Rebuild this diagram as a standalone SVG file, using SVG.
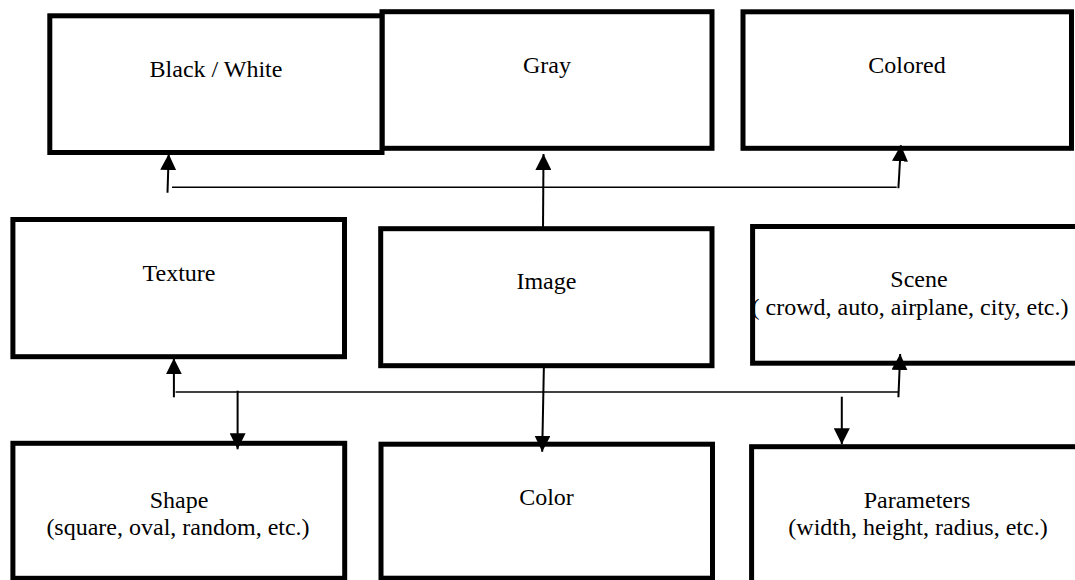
<svg xmlns="http://www.w3.org/2000/svg" width="1075" height="580" viewBox="0 0 1075 580">
<style>
.box{fill:#fff;stroke:#000;stroke-width:5}
.lbl{font-size:24px;fill:#000;text-anchor:middle}
.arr{stroke:#000;stroke-width:2;fill:none;marker-end:url(#ah)}
.hl{stroke:#000;stroke-width:1.6;fill:none}
</style>
<defs>
<marker id="ah" markerUnits="userSpaceOnUse" viewBox="0 0 16 16" refX="16" refY="8" markerWidth="16" markerHeight="16" orient="auto">
<path d="M0,0 L16,8 L0,16 z" fill="#000"/>
</marker>
</defs>
<rect width="1075" height="580" fill="#fff"/>
<g font-family="'Liberation Serif', 'DejaVu Serif', serif">
<g id="gray"><rect class="box" x="382" y="11.7" width="330" height="136.6"/><text class="lbl" x="547" y="73.3">Gray</text></g>
<g id="blackwhite"><rect class="box" x="49.8" y="15.8" width="332.2" height="136.7"/><text class="lbl" x="216" y="77.3">Black / White</text></g>
<g id="colored"><rect class="box" x="743" y="11.8" width="328.5" height="136.5"/><text class="lbl" x="907" y="72.7">Colored</text></g>
<g id="texture"><rect class="box" x="12.9" y="219.5" width="331.6" height="137.2"/><text class="lbl" x="179" y="280.7">Texture</text></g>
<g id="image"><rect class="box" x="380.7" y="228.7" width="331.3" height="137"/><text class="lbl" x="546.4" y="289.3">Image</text></g>
<g id="scene"><rect class="box" x="752.6" y="226.5" width="330" height="136.7"/><text class="lbl" x="919" y="287.3">Scene</text><text class="lbl" x="910" y="315">( crowd, auto, airplane, city, etc.)</text></g>
<g id="shape"><rect class="box" x="12.9" y="443.3" width="331.8" height="135"/><text class="lbl" x="179" y="508.3">Shape</text><text class="lbl" x="178" y="535">(square, oval, random, etc.)</text></g>
<g id="color"><rect class="box" x="381" y="444.2" width="331.5" height="134"/><text class="lbl" x="546.5" y="505">Color</text></g>
<g id="parameters"><rect class="box" x="751.6" y="446.7" width="333" height="140"/><text class="lbl" x="917" y="508.3">Parameters</text><text class="lbl" x="918" y="535">(width, height, radius, etc.)</text></g>
</g>
<g id="connectors">
<line class="arr" x1="167.5" y1="192.7" x2="168.7" y2="154"/>
<line class="hl" x1="172" y1="187.3" x2="896.7" y2="187.3"/>
<line class="arr" x1="543" y1="229" x2="543.5" y2="154"/>
<line class="arr" x1="898.4" y1="188.3" x2="900.9" y2="145.3"/>
<line class="arr" x1="173.9" y1="397.3" x2="173.9" y2="358.3"/>
<line class="hl" x1="175.6" y1="392" x2="898.4" y2="392"/>
<line class="arr" x1="898.4" y1="397.3" x2="900.2" y2="354"/>
<line class="arr" x1="237.6" y1="390.7" x2="237.6" y2="449.3"/>
<line class="arr" x1="543.9" y1="365.5" x2="542.2" y2="451.7"/>
<line class="arr" x1="841.8" y1="396.7" x2="841.8" y2="444.3"/>
</g>
</svg>
